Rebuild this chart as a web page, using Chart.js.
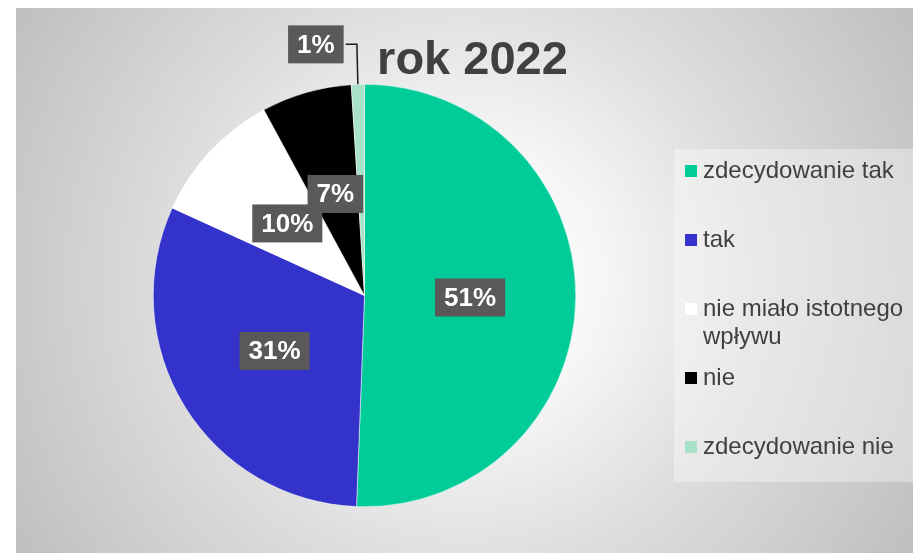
<!DOCTYPE html>
<html>
<head>
<meta charset="utf-8">
<script src="https://cdn.jsdelivr.net/npm/chart.js@4/dist/chart.umd.min.js"></script>
<style>
  body { margin: 0; background: #fff; }
  canvas { display: block; }
</style>
</head>
<body>
<canvas id="pieChart" width="913" height="553"></canvas>
<script>
// Data
const chartTitle = "rok 2022";
const categories = ["zdecydowanie tak", "tak", "nie miało istotnego wpływu", "nie", "zdecydowanie nie"];
const shares = [50.6, 31.2, 10.3, 6.9, 1.0];
const sliceColors = ["#00CC99", "#3333CC", "#FFFFFF", "#000000", "#A8E2C8"];

const FONT = '"Liberation Sans", Arial, sans-serif';
const TEXT_COLOR = "#404040";

// wrap legend text into lines
function wrapText(ctx, text, maxWidth) {
  const words = text.split(" ");
  const lines = [];
  let line = "";
  words.forEach((word) => {
    const test = line ? line + " " + word : word;
    if (ctx.measureText(test).width > maxWidth && line) {
      lines.push(line);
      line = word;
    } else {
      line = test;
    }
  });
  if (line) lines.push(line);
  return lines;
}

const decorPlugin = {
  id: "decor",
  beforeDraw(chart) {
    const ctx = chart.ctx;
    ctx.save();
    ctx.fillStyle = "#ffffff";
    ctx.fillRect(0, 0, chart.width, chart.height);

    // chart background, radial grey gradient
    const grad = ctx.createRadialGradient(464, 280, 0, 464, 280, 524);
    grad.addColorStop(0, "#ffffff");
    grad.addColorStop(0.25, "#f7f7f7");
    grad.addColorStop(0.55, "#dedede");
    grad.addColorStop(1, "#bfbfbf");
    ctx.fillStyle = grad;
    ctx.fillRect(16, 8, chart.width - 16, chart.height - 8);

    // title
    ctx.fillStyle = TEXT_COLOR;
    ctx.font = "bold 47px " + FONT;
    ctx.textAlign = "center";
    ctx.textBaseline = "alphabetic";
    ctx.fillText(chartTitle, 472.5, 74);

    // legend box
    ctx.fillStyle = "rgba(255,255,255,0.35)";
    ctx.fillRect(674, 149, 239, 333);
    ctx.restore();
  },
  afterDatasetsDraw(chart) {
    const ctx = chart.ctx;
    const meta = chart.getDatasetMeta(0);
    const total = shares.reduce((sum, v) => sum + v, 0);

    ctx.save();
    ctx.font = "bold 26px " + FONT;
    ctx.textAlign = "center";
    ctx.textBaseline = "middle";

    meta.data.forEach((arc, i) => {
      const text = Math.round((shares[i] / total) * 100) + "%";
      const w = ctx.measureText(text).width + 18;
      const h = 38;
      let p = arc.getCenterPoint();

      // small slices get their label outside with a leader line
      if (shares[i] / total < 0.03) {
        const { x, y, startAngle, endAngle, outerRadius } = arc.getProps(
          ["x", "y", "startAngle", "endAngle", "outerRadius"],
          true,
        );
        const mid = (startAngle + endAngle) / 2;
        const ox = x + Math.cos(mid) * outerRadius;
        const oy = y + Math.sin(mid) * outerRadius;
        p = { x: ox - 42, y: oy - 40 };

        ctx.strokeStyle = "#1a1a1a";
        ctx.lineWidth = 1.5;
        ctx.beginPath();
        ctx.moveTo(p.x + w / 2 + 2, p.y);
        ctx.lineTo(ox - 1, p.y);
        ctx.lineTo(ox, oy);
        ctx.stroke();
      }

      ctx.fillStyle = "#595959";
      ctx.fillRect(p.x - w / 2, p.y - h / 2, w, h);
      ctx.fillStyle = "#ffffff";
      ctx.fillText(text, p.x, p.y + 1);
    });
    ctx.restore();
  },
  afterDraw(chart) {
    // legend items
    const ctx = chart.ctx;
    ctx.save();
    ctx.font = "24px " + FONT;
    ctx.textAlign = "left";
    ctx.textBaseline = "middle";
    const startY = 171;
    const step = 69;
    categories.forEach((cat, i) => {
      const y = startY + i * step;
      ctx.fillStyle = sliceColors[i];
      ctx.fillRect(685, y - 6, 12, 12);
      ctx.fillStyle = TEXT_COLOR;
      const lines = wrapText(ctx, cat, 205);
      lines.forEach((line, j) => {
        ctx.fillText(line, 703, y + j * 28);
      });
    });
    ctx.restore();
  },
};

new Chart(document.getElementById("pieChart"), {
  type: "pie",
  data: {
    labels: categories,
    datasets: [
      {
        data: shares,
        backgroundColor: sliceColors,
        borderColor: "#ffffff",
        borderWidth: 0.5,
      },
    ],
  },
  options: {
    responsive: false,
    animation: false,
    layout: {
      padding: { left: 153, right: 337, top: 84, bottom: 46 },
    },
    plugins: {
      legend: { display: false },
      title: { display: false },
      tooltip: { enabled: false },
    },
  },
  plugins: [decorPlugin],
});
</script>
</body>
</html>
